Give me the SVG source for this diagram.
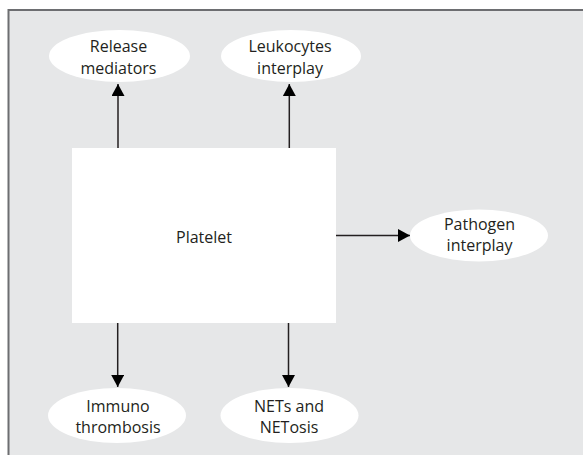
<svg xmlns="http://www.w3.org/2000/svg" width="583" height="455" viewBox="0 0 583 455">
<defs>
<style>
.node ellipse{fill:#ffffff;stroke:none}
.lbl{font-family:"Open Sans","Liberation Sans",sans-serif;font-size:16px;fill:#231f20;text-anchor:middle}
.conn line{stroke:#231f20;stroke-width:1.5;fill:none}
</style>
<marker id="ah" viewBox="0 0 12 13" refX="12" refY="6.5" markerWidth="12" markerHeight="13" markerUnits="userSpaceOnUse" orient="auto">
<path d="M0,0 L12,6.5 L0,13 Z" fill="#000"/>
</marker>
</defs>
<rect x="0" y="0" width="583" height="455" fill="#ffffff"/>
<rect x="8.5" y="10" width="590" height="460" fill="#e6e7e8" stroke="#6d6e71" stroke-width="2"/>
<g id="platelet" class="node">
<rect x="72" y="148" width="264" height="175" fill="#ffffff"/>
<text class="lbl" x="204" y="242.5">Platelet</text>
</g>
<g id="release" class="node">
<ellipse cx="119.5" cy="56" rx="70.5" ry="26"/>
<text class="lbl" x="118.5" y="52">Release</text>
<text class="lbl" x="118.5" y="73.5">mediators</text>
</g>
<g id="leukocytes" class="node">
<ellipse cx="291" cy="56" rx="70" ry="26"/>
<text class="lbl" x="290" y="52">Leukocytes</text>
<text class="lbl" x="290" y="73.5">interplay</text>
</g>
<g id="pathogen" class="node">
<ellipse cx="479" cy="235.5" rx="69" ry="26"/>
<text class="lbl" x="479.5" y="229.5">Pathogen</text>
<text class="lbl" x="479.5" y="251">interplay</text>
</g>
<g id="immuno" class="node">
<ellipse cx="117" cy="415.5" rx="69" ry="27.5"/>
<text class="lbl" x="118" y="411.5">Immuno</text>
<text class="lbl" x="118" y="433">thrombosis</text>
</g>
<g id="nets" class="node">
<ellipse cx="289.5" cy="415.5" rx="69" ry="27.5"/>
<text class="lbl" x="289" y="411.5">NETs and</text>
<text class="lbl" x="289" y="433">NETosis</text>
</g>
<g id="connectors" class="conn">
<line x1="118" y1="148" x2="118" y2="84" marker-end="url(#ah)"/>
<line x1="289.3" y1="148" x2="289.3" y2="84" marker-end="url(#ah)"/>
<line x1="336" y1="235.5" x2="410" y2="235.5" marker-end="url(#ah)"/>
<line x1="117.7" y1="323" x2="117.7" y2="387" marker-end="url(#ah)"/>
<line x1="288.5" y1="323" x2="288.5" y2="387" marker-end="url(#ah)"/>
</g>
</svg>
